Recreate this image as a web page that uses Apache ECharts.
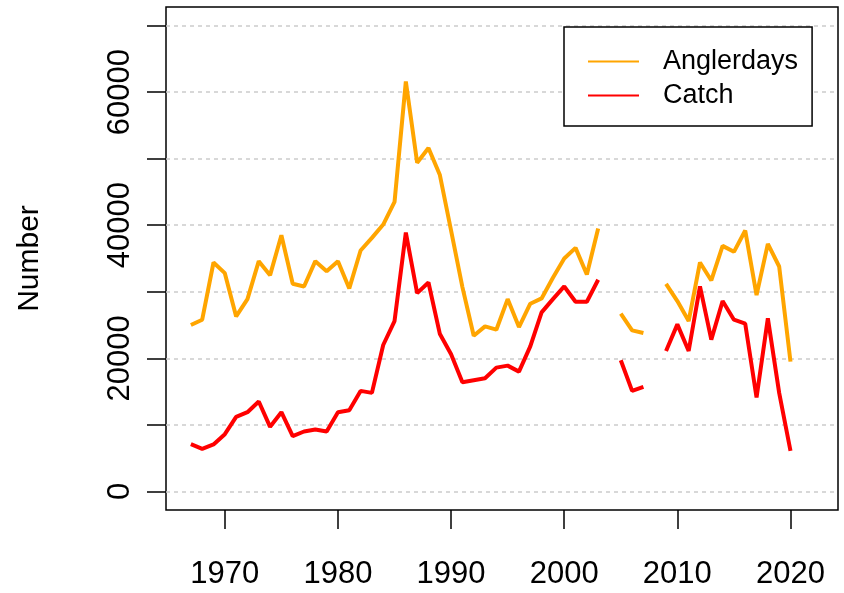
<!DOCTYPE html>
<html>
<head>
<meta charset="utf-8">
<script src="https://cdn.jsdelivr.net/npm/echarts@6/dist/echarts.min.js"></script>
<style>
  html, body { margin: 0; padding: 0; background: #fff; }
  #main { width: 844px; height: 593px; }
</style>
</head>
<body>
<div id="main"></div>
<script>
var years = [];
for (var y = 1967; y <= 2020; y++) years.push(y);

// 2004 and 2008 missing
var anglerdays = [
  25000, 25800, 34400, 32800, 26300, 28900, 34600, 32500, 38500, 31200,
  30800, 34600, 33100, 34600, 30500, 36200, 38100, 40100, 43500, 61600,
  49400, 51600, 47600, 39200, 30700, 23400, 24800, 24300, 28900, 24700,
  28200, 29000, 32100, 35000, 36600, 32600, 39500, null, 26700, 24200,
  23800, null, 31200, 28600, 25600, 34400, 31700, 36900, 36000, 39200,
  29500, 37200, 33800, 19500
];
var catchNum = [
  7100, 6400, 7050, 8600, 11200, 11900, 13500, 9700, 11900, 8300,
  9000, 9300, 9000, 11900, 12200, 15100, 14800, 22000, 25600, 38900,
  29800, 31400, 23700, 20600, 16400, 16700, 17000, 18600, 18900, 18000,
  21800, 26900, 28900, 30800, 28500, 28500, 31800, null, 19700, 15100,
  15700, null, 21100, 25100, 21100, 30800, 22800, 28600, 25800, 25200,
  14100, 26000, 14800, 6100
];
var xTicks = [1970, 1980, 1990, 2000, 2010, 2020];
var yTicks = [0, 10000, 20000, 30000, 40000, 50000, 60000, 70000];
var yLabels = [0, 20000, 40000, 60000];

function pairs(vals) {
  return years.map(function (yr, i) { return [yr, vals[i]]; });
}

var chartDom = document.getElementById('main');
var myChart = echarts.init(chartDom);
var font = '"Liberation Sans", Arial, sans-serif';
var option;

option = {
  animation: false,
  textStyle: { fontFamily: font },
  // R style: 4% padding round the data range, box drawn by the grid
  grid: {
    left: 166, right: 6, top: 7, bottom: 83,
    outerBoundsMode: 'none',
    show: true, borderColor: '#000', borderWidth: 1.5
  },
  legend: {
    orient: 'vertical',
    left: 564,
    top: 27,
    padding: [21, 14, 17, 23],
    itemGap: 7,
    itemWidth: 51,
    itemHeight: 30,
    borderColor: '#000',
    borderWidth: 1.5,
    backgroundColor: '#fff',
    itemStyle: { opacity: 0 },
    textStyle: { fontSize: 27, color: '#000', fontFamily: font, padding: [0, 0, 0, 19] },
    data: ['Anglerdays', 'Catch']
  },
  xAxis: {
    type: 'value',
    min: 1964.8,
    max: 2024.2,
    axisLine: { show: false, onZero: false },
    splitLine: { show: false },
    axisTick: { show: true, length: 19, lineStyle: { color: '#000', width: 1.5 }, customValues: xTicks },
    axisLabel: {
      fontSize: 31, color: '#000', margin: 49, customValues: xTicks, fontFamily: font,
      formatter: function (v) { return String(v); }
    }
  },
  yAxis: {
    type: 'value',
    min: -2800,
    max: 72800,
    name: 'Number',
    nameLocation: 'middle',
    nameRotate: 90,
    nameGap: 121,
    nameMoveOverlap: false,
    nameTextStyle: { fontSize: 30, color: '#000', fontFamily: font },
    axisLine: { show: false, onZero: false },
    axisTick: { show: true, length: 19, lineStyle: { color: '#000', width: 1.5 }, customValues: yTicks },
    axisLabel: {
      fontSize: 31, color: '#000', rotate: 90, margin: 30, fontFamily: font,
      customValues: yLabels,
      formatter: function (v) { return String(v); }
    },
    splitLine: { show: false }
  },
  series: [
    {
      name: 'Anglerdays',
      type: 'line',
      data: pairs(anglerdays),
      symbol: 'none',
      connectNulls: false,
      lineStyle: { color: '#FFA500', width: 4 },
      itemStyle: { color: '#FFA500' },
      z: 3,
      markLine: {
        silent: true,
        symbol: 'none',
        label: { show: false },
        lineStyle: { color: '#cccccc', width: 1.5, type: [4, 4] },
        data: yTicks.map(function (v) { return { yAxis: v }; }),
        z: 1
      }
    },
    {
      name: 'Catch',
      type: 'line',
      data: pairs(catchNum),
      symbol: 'none',
      connectNulls: false,
      lineStyle: { color: '#FF0000', width: 4 },
      itemStyle: { color: '#FF0000' },
      z: 3
    }
  ]
};

option && myChart.setOption(option);
</script>
</body>
</html>
